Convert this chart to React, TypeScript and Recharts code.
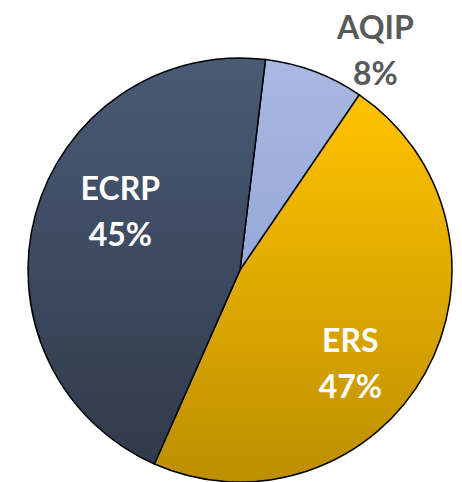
import { PieChart, Pie, Cell } from "recharts";

// ─── Data ─────────────────────────────────────────────────────────────────────

const programs = ["AQIP", "ERS", "ECRP"];
const shares = [7.6, 47.1, 45.3];

const data = programs.map((name, i) => ({ name, value: shares[i] }));

// ─── Styling ──────────────────────────────────────────────────────────────────

const gradients: Record<string, [string, string]> = {
  AQIP: ["#aab8e2", "#95a8d8"],
  ERS: ["#ffc300", "#bd8f00"],
  ECRP: ["#4a5a75", "#303a4b"],
};

const labelColor: Record<string, string> = {
  AQIP: "#595959",
  ERS: "#ffffff",
  ECRP: "#ffffff",
};

const RADIAN = Math.PI / 180;
const CX = 240;
const CY = 270;
const R = 212;

interface LabelProps {
  midAngle?: number;
  percent?: number;
  name?: string;
}

function SliceLabel({ midAngle = 0, percent = 0, name = "" }: LabelProps) {
  const outside = name === "AQIP";
  const dist = outside ? R * 1.22 : name === "ERS" ? R * 0.68 : R * 0.63;
  // Excel nudges labels a little clockwise of the slice's middle
  const angle = midAngle - 11;
  const x = CX + dist * Math.cos(-angle * RADIAN);
  const y = CY + dist * Math.sin(-angle * RADIAN);
  return (
    <text
      x={x}
      y={y}
      textAnchor="middle"
      fill={labelColor[name]}
      fontFamily="Lato, 'Open Sans', sans-serif"
      fontWeight={700}
      fontSize={32}
    >
      <tspan x={x} y={y - 23} dominantBaseline="central">
        {name}
      </tspan>
      <tspan x={x} y={y + 23} dominantBaseline="central">
        {`${Math.round(percent * 100)}%`}
      </tspan>
    </text>
  );
}

// ─── Chart ────────────────────────────────────────────────────────────────────

export default function App() {
  return (
    <div
      style={{
        position: "absolute",
        left: 0,
        top: 0,
        width: 462,
        height: 482,
        background: "#ffffff",
      }}
    >
      <PieChart
        width={462}
        height={482}
        margin={{ top: 0, right: 0, bottom: 0, left: 0 }}
      >
        <defs>
          {programs.map((p) => (
            <linearGradient key={p} id={`grad-${p}`} x1="0" y1="0" x2="0" y2="1">
              <stop offset="0%" stopColor={gradients[p][0]} />
              <stop offset="100%" stopColor={gradients[p][1]} />
            </linearGradient>
          ))}
        </defs>
        <Pie
          data={data}
          dataKey="value"
          nameKey="name"
          cx={CX}
          cy={CY}
          outerRadius={R}
          startAngle={83.1}
          endAngle={83.1 - 360}
          stroke="#000000"
          strokeWidth={1.5}
          label={<SliceLabel />}
          labelLine={false}
          isAnimationActive={false}
        >
          {data.map((d) => (
            <Cell key={d.name} fill={`url(#grad-${d.name})`} />
          ))}
        </Pie>
      </PieChart>
    </div>
  );
}
